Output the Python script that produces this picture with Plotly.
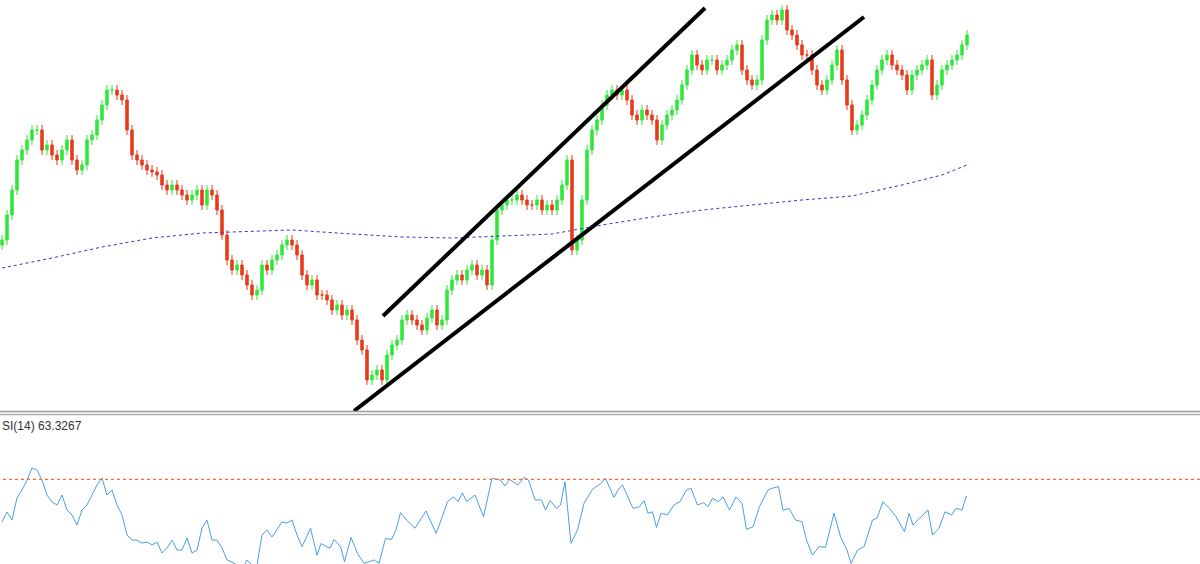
import plotly.graph_objects as go

# closes (price units), one bar per step
closes = [180,205,230,260,270,280,290,290,270,275,265,260,270,280,260,250,255,280,285,300,315,330,330,325,320,290,265,260,255,250,248,245,235,230,235,230,225,220,225,230,215,230,225,210,185,160,150,155,145,135,125,130,155,150,160,165,175,180,175,165,145,135,140,125,125,120,110,115,105,110,100,80,70,40,45,50,40,65,75,80,100,105,100,95,90,102,110,95,100,130,140,145,140,150,155,145,150,135,180,210,215,220,220,225,220,215,215,220,210,215,210,220,235,260,170,180,220,270,290,300,315,325,330,325,330,320,305,300,310,305,300,280,295,305,310,320,335,350,365,355,350,360,360,350,355,360,370,375,350,340,335,340,380,400,405,400,410,390,385,375,365,365,350,335,330,340,355,370,340,315,290,295,305,320,335,350,360,365,355,350,345,330,345,350,355,360,325,335,350,355,360,365,375,385]
wick = 5

ma_idx = [0,10,20,30,40,50,58,70,80,90,100,110,120,130,140,150,160,170,180,188,193]
ma_val = [152,162,173,182,187,189,190,186,183,182,184,186,195,203,210,215,220,224,235,245,255]

rsi_idx = list(range(60)) + [60,61.7,63,63.8,65.6,66.4,67.7,68.5,69.8,71.1,72.4,74.5,75.4,76.7,77.9,78.8,79.7,80.9,82.6,84.8,86.8,87.8,89.1,90.3,91.2,92.1,92.9,94.6,96.3,98,99.7,100.6,101.5,103.2,104.4,105.3,106.6,107.9,108.7,109.6,110.9,111.7,112.6,113.8,115.1,116.4,118.1,119.8,120.7,122.4,123.2,124.1,126.2,127.5,128.4,129.2,130.1,130.9,131.8,133.1,134.4,135.6,136.9,137.8,139.1,140.3,141.2,142.1,143.3,144.2,145.5,146.8,148,148.9,150.2,151.5,153.2,154,155.3,156.2,157.4,158.7,160,160.9,162.1,163.4,164.7,166.4,167.7,169,169.8,171.1,172.4,174.1,175,176.2,177.5,178.8,180.5,181.4,182.2,183.5,185.2,186.1,187.4,188.6,189.9,190.8,192,192.9]
rsi_val = [49.9,54.6,50.8,61.2,65,69.7,75.4,74.5,69.7,62.6,59.3,57.9,62.6,55.5,53.2,48.4,55.5,57.9,62.6,67.4,70.7,62.6,65,57.9,53.2,43.7,41.3,41.3,39.9,40.4,39,40.4,35.2,37.6,41.3,36.6,36.6,42.3,35.2,36.6,47,50.8,41.3,41.3,37.6,31.9,30.9,29.5,27.2,31.9,29.5,29.5,43.7,46.1,42.8,46.1,49.9,49.4,50.8,43.7,
 38.2,46.9,34.2,39.7,37.4,41.6,38.2,31.1,42.6,35,30.3,31.9,30.3,42.1,41.6,46.1,54.3,50.8,46.9,55.1,44.5,50.8,59.5,61.8,59.5,63.7,59.5,62.6,52.4,70.5,69.7,66.9,70,67.4,71,69.7,60.3,60.3,55.5,60,56.3,57.9,68.9,39.8,46.1,58.7,65.3,68.2,70.5,61.5,65,67.4,56.3,57.1,60,54,54.7,47.3,54,53.2,57.9,59.5,65,65.8,57.9,59,57.1,61.1,59.5,61.8,55.5,61.8,58.7,46.4,47.6,57.1,65,65.8,66.6,55.5,56.3,50.8,50,41.3,34.2,38.2,37.9,54,42.9,36.6,30.3,36.6,38.2,50.8,51.6,59.5,56.3,52.4,45.3,54,48.4,51.6,55.5,43.7,46.9,54.7,53.2,56.3,55.5,62.2]

channel_top = ([76.2,140.6],[104,412])
channel_bot = ([70.4,172.4],[9,403])

opens = [closes[0]-5] + closes[:-1]
highs = [max(o,c)+wick for o,c in zip(opens,closes)]
lows = [min(o,c)-wick for o,c in zip(opens,closes)]
idx = list(range(len(closes)))

fig = go.Figure()
fig.add_trace(go.Candlestick(x=idx, open=opens, high=highs, low=lows, close=closes,
    increasing=dict(line=dict(color='#2fe83a', width=1), fillcolor='#2fe83a'),
    decreasing=dict(line=dict(color='#e83a1a', width=1), fillcolor='#e83a1a'),
    whiskerwidth=0, xaxis='x', yaxis='y', hoverinfo='skip'))
fig.add_trace(go.Scatter(x=ma_idx, y=ma_val, mode='lines', line=dict(color='#3333cc', width=1, dash='dot'), xaxis='x', yaxis='y'))
for xs, ys in (channel_top, channel_bot):
    fig.add_trace(go.Scatter(x=xs, y=ys, mode='lines', line=dict(color='black', width=4), xaxis='x', yaxis='y'))
fig.add_trace(go.Scatter(x=rsi_idx, y=rsi_val, mode='lines', line=dict(color='#4a9ee8', width=1), xaxis='x2', yaxis='y2'))
fig.add_trace(go.Scatter(x=[-1, 240], y=[70, 70], mode='lines', line=dict(color='#ff6a30', width=1.2, dash='dot'), xaxis='x2', yaxis='y2'))

H = 564
xr = [-0.4, 239.6]
fig.update_layout(
    width=1200, height=H, margin=dict(l=0, r=0, t=0, b=0), showlegend=False,
    paper_bgcolor='white', plot_bgcolor='white',
    xaxis=dict(range=xr, visible=False, rangeslider=dict(visible=False), domain=[0, 1]),
    yaxis=dict(range=[9, 420], visible=False, domain=[1-411/H, 1]),
    xaxis2=dict(range=xr, visible=False, anchor='y2', domain=[0, 1]),
    yaxis2=dict(range=[30, 100], visible=False, domain=[0, (H-416)/H], anchor='x2'),
    shapes=[
        dict(type='line', xref='paper', yref='paper', x0=0, x1=1, y0=1-411.5/H, y1=1-411.5/H, line=dict(color='#999999', width=1.5)),
        dict(type='line', xref='paper', yref='paper', x0=0, x1=1, y0=1-414.5/H, y1=1-414.5/H, line=dict(color='#aaaaaa', width=1.5)),
    ],
    annotations=[dict(text='SI(14) 63.3267', xref='paper', yref='paper', x=0, y=1-417/H, xanchor='left', yanchor='top',
                      showarrow=False, font=dict(family='Liberation Sans, Arial', size=12, color='#333333'))],
)
fig.write_html('out.html', config={'displayModeBar': False},
               post_script="document.body.style.margin='0';document.body.style.overflow='hidden';")
